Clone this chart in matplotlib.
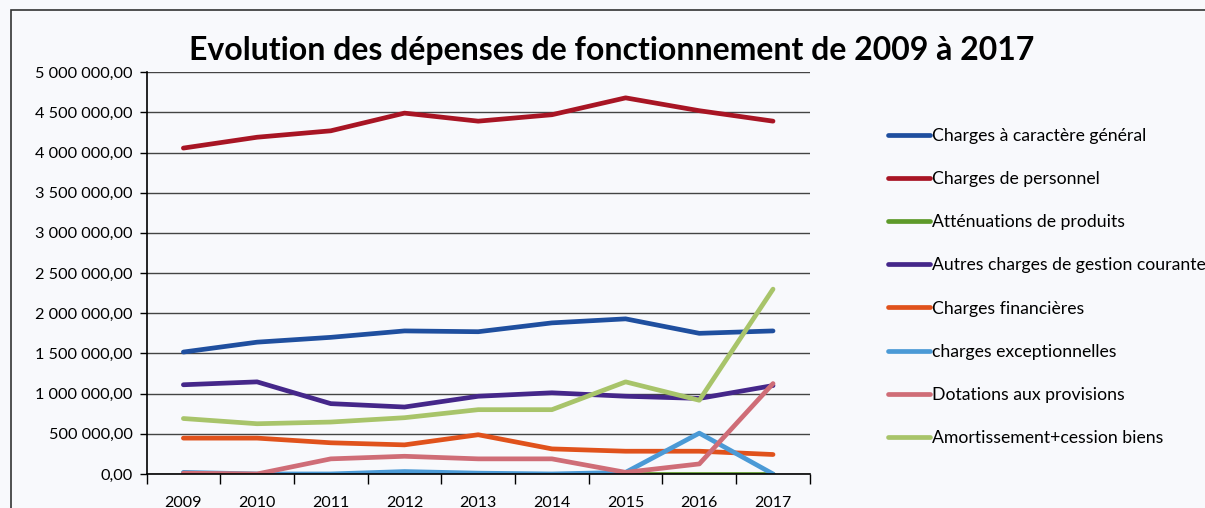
import matplotlib
matplotlib.use("Agg")
import matplotlib.pyplot as plt
from matplotlib.ticker import FuncFormatter, MultipleLocator
import numpy as np

plt.rcParams['font.family'] = ['Lato', 'DejaVu Sans']

years = ["2009", "2010", "2011", "2012", "2013", "2014", "2015", "2016", "2017"]

charges_generales = [1517000, 1640000, 1700000, 1780000, 1770000, 1880000, 1930000, 1750000, 1780000]
charges_personnel = [4055000, 4190000, 4270000, 4490000, 4390000, 4470000, 4680000, 4520000, 4390000]
attenuations = [0, 0, 0, 0, 0, 0, 0, 0, 0]
autres_charges = [1110000, 1146000, 875000, 833000, 967000, 1010000, 967000, 940000, 1100000]
charges_financieres = [446000, 446000, 388000, 362000, 488000, 312000, 283000, 283000, 242000]
charges_exceptionnelles = [20000, 0, 0, 30000, 10000, 0, 20000, 508000, 0]
dotations = [10000, 0, 188000, 220000, 188000, 188000, 20000, 125000, 1125000]
amortissement = [690000, 625000, 646000, 700000, 800000, 800000, 1146000, 917000, 2300000]

series = [
    ("Charges à caractère général", charges_generales, "#1f4f9f"),
    ("Charges de personnel", charges_personnel, "#a81524"),
    ("Atténuations de produits", attenuations, "#5e9a2a"),
    ("Autres charges de gestion courante", autres_charges, "#45278a"),
    ("Charges financières", charges_financieres, "#e0521c"),
    ("charges exceptionnelles", charges_exceptionnelles, "#4b9ad6"),
    ("Dotations aux provisions", dotations, "#cf6d77"),
    ("Amortissement+cession biens", amortissement, "#a8c46a"),
]

bg = "#f8f9fc"
fig = plt.figure(figsize=(12.05, 5.08), dpi=100, facecolor=bg)
ax = fig.add_axes([0.1216, 0.067, 0.5505, 0.791], facecolor=bg)

x = np.arange(len(years))
for name, vals, col in series:
    ax.plot(x, vals, color=col, lw=3.4, label=name, solid_capstyle="round")

ax.set_xlim(-0.5, len(years) - 0.5)
ax.set_ylim(0, 5000000)
ax.yaxis.set_major_locator(MultipleLocator(500000))


def fr_fmt(v, pos):
    s = f"{v:,.2f}"
    return s.replace(",", " ").replace(".", ",")


ax.yaxis.set_major_formatter(FuncFormatter(fr_fmt))
ax.set_xticks(x)
ax.set_xticklabels(years)
ax.set_xticks(np.arange(-0.5, len(years)), minor=True)
ax.tick_params(axis="x", which="major", length=0, pad=16, labelsize=11.5)
ax.tick_params(axis="x", which="minor", length=7, width=1, direction="out")
ax.tick_params(axis="y", length=5, width=1, labelsize=11.7, pad=5)
ax.grid(axis="y", color="#444444", lw=1)
for s in ["top", "right"]:
    ax.spines[s].set_visible(False)
ax.spines["left"].set_linewidth(1.2)
ax.spines["bottom"].set_linewidth(1.2)

fig.text(0.508, 0.9, "Evolution des dépenses de fonctionnement de 2009 à 2017",
         ha="center", va="center", fontsize=23, fontweight="bold")

handles, labels = ax.get_legend_handles_labels()
fig.legend(handles, labels, loc="upper left", bbox_to_anchor=(0.731, 0.762),
           frameon=False, fontsize=12.7, handlelength=2.4, handletextpad=0.1,
           labelspacing=1.54, borderaxespad=0)

# chart border
fig.add_artist(plt.Rectangle((0.009, -0.1), 1.2, 1.08, transform=fig.transFigure,
                             fill=False, edgecolor="#333333", lw=1.2))

fig.savefig("out.png", dpi=100, facecolor=bg)
